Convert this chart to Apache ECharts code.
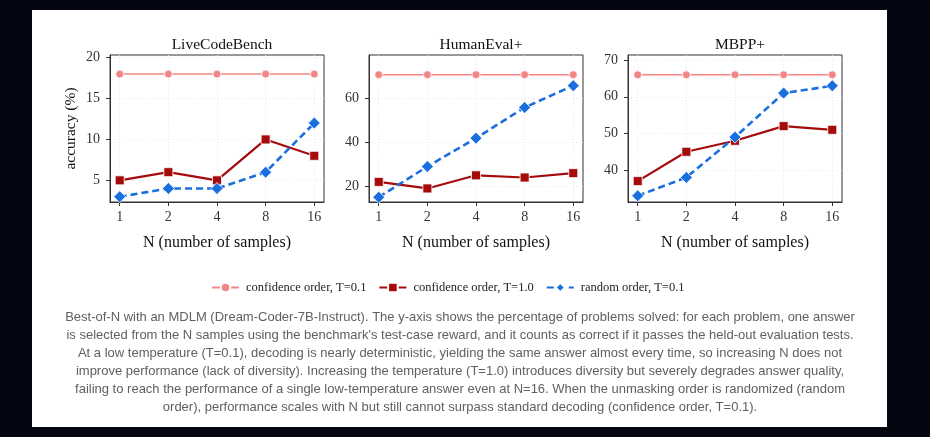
<!DOCTYPE html>
<html>
<head>
<meta charset="utf-8">
<script src="https://cdn.jsdelivr.net/npm/echarts@6/dist/echarts.min.js"></script>
<style>
  html, body { margin: 0; padding: 0; background: #040711; }
  #card { position: absolute; left: 32px; top: 10px; width: 855px; height: 417px; background: #ffffff; }
  #chart { position: absolute; left: 0; top: 0; width: 930px; height: 437px; }
</style>
</head>
<body>
<div id="card"></div>
<div id="chart"></div>
<script>
// ---- data ----
const xLabels = ['1', '2', '4', '8', '16'];
const panelTitles = ['LiveCodeBench', 'HumanEval+', 'MBPP+'];
const seriesNames = ['confidence order, T=0.1', 'confidence order, T=1.0', 'random order, T=0.1'];

const lcbConfT01 = [18, 18, 18, 18, 18];
const lcbConfT10 = [5, 6, 5, 10, 8];
const lcbRandT01 = [3, 4, 4, 6, 12];

const heConfT01 = [71, 71, 71, 71, 71];
const heConfT10 = [22, 19, 25, 24, 26];
const heRandT01 = [15, 29, 42, 56, 66];

const mbppConfT01 = [66, 66, 66, 66, 66];
const mbppConfT10 = [37, 45, 48, 52, 51];
const mbppRandT01 = [33, 38, 49, 61, 63];

const lcbYTicks = [5, 10, 15, 20];
const heYTicks = [20, 40, 60];
const mbppYTicks = [40, 50, 60, 70];

const yAxisName = 'accuracy (%)';
const xAxisName = 'N (number of samples)';

const captionLines = [
  'Best-of-N with an MDLM (Dream-Coder-7B-Instruct). The y-axis shows the percentage of problems solved: for each problem, one answer',
  "is selected from the N samples using the benchmark's test-case reward, and it counts as correct if it passes the held-out evaluation tests.",
  'At a low temperature (T=0.1), decoding is nearly deterministic, yielding the same answer almost every time, so increasing N does not',
  'improve performance (lack of diversity). Increasing the temperature (T=1.0) introduces diversity but severely degrades answer quality,',
  'failing to reach the performance of a single low-temperature answer even at N=16. When the unmasking order is randomized (random',
  'order), performance scales with N but still cannot surpass standard decoding (confidence order, T=0.1).'
];

// ---- layout / style ----
const panelData = [
  [lcbConfT01, lcbConfT10, lcbRandT01],
  [heConfT01, heConfT10, heRandT01],
  [mbppConfT01, mbppConfT10, mbppRandT01]
];
const panelYTicks = [lcbYTicks, heYTicks, mbppYTicks];
const yRanges = [[2.35, 20.33], [12.8, 80], [31.3, 71.4]];
const gridLefts = [110, 369, 628];
const gridWidth = 214;
const gridTop = 55;
const gridHeight = 147;

const SERIF = "'Liberation Serif', 'Times New Roman', serif";
const SANS = "'Liberation Sans', Arial, sans-serif";

const seriesStyles = [
  { color: '#f28686', symbol: 'circle', symbolSize: 8, lineStyle: { width: 1.6, type: 'solid' } },
  { color: '#a50b0b', symbol: 'rect', symbolSize: 9, lineStyle: { width: 2.2, type: 'solid' } },
  { color: '#1a6fe0', symbol: 'diamond', symbolSize: 12, lineStyle: { width: 2.6, type: [7, 4] } }
];

const grids = [], xAxes = [], yAxes = [], series = [], titles = [];
const xTickVals = xLabels.map((_, i) => i);
const gridLineStyle = { color: '#e4e4e4', width: 0.8, type: [1, 2] };

panelData.forEach((sets, p) => {
  grids.push({
    left: gridLefts[p], top: gridTop, width: gridWidth, height: gridHeight,
    show: true, borderColor: '#333', borderWidth: 1, backgroundColor: 'transparent'
  });
  titles.push({
    text: panelTitles[p],
    left: gridLefts[p] + gridWidth / 2, top: 32, textAlign: 'center',
    textStyle: { fontFamily: SERIF, fontSize: 15.5, fontWeight: 'normal', color: '#111' }
  });
  xAxes.push({
    type: 'value', gridIndex: p, min: -0.2, max: 4.2,
    name: xAxisName, nameLocation: 'middle', nameGap: 33,
    nameTextStyle: { fontFamily: SERIF, fontSize: 16, color: '#111' },
    axisLine: { show: true, onZero: false, lineStyle: { color: '#333', width: 1 } },
    axisTick: { show: true, length: 4, customValues: xTickVals, lineStyle: { color: '#333' } },
    axisLabel: {
      customValues: xTickVals, margin: 8,
      formatter: v => xLabels[Math.round(v)],
      fontFamily: SERIF, fontSize: 14, color: '#333'
    },
    splitLine: { show: true, lineStyle: gridLineStyle }
  });
  yAxes.push({
    type: 'value', gridIndex: p, min: yRanges[p][0], max: yRanges[p][1],
    name: p === 0 ? yAxisName : '', nameLocation: 'middle', nameGap: 31, nameRotate: 90,
    nameTextStyle: { fontFamily: SERIF, fontSize: 15.5, color: '#111' },
    axisLine: { show: true, onZero: false, lineStyle: { color: '#333', width: 1 } },
    axisTick: { show: true, length: 4, customValues: panelYTicks[p], lineStyle: { color: '#333' } },
    axisLabel: {
      customValues: panelYTicks[p], margin: 10,
      fontFamily: SERIF, fontSize: 14, color: '#333'
    },
    splitLine: { show: true, lineStyle: gridLineStyle }
  });
  sets.forEach((vals, s) => {
    const st = seriesStyles[s];
    series.push({
      name: seriesNames[s], type: 'line', xAxisIndex: p, yAxisIndex: p,
      data: vals.map((v, i) => [i, v]),
      symbol: st.symbol, symbolSize: st.symbolSize, showSymbol: true,
      itemStyle: { color: st.color, borderColor: '#ffffff', borderWidth: 0.8 },
      lineStyle: Object.assign({ color: st.color }, st.lineStyle),
      z: 2 + s, animation: false
    });
  });
});

const graphics = captionLines.map((line, i) => ({
  type: 'text', x: 460, y: 311 + i * 18,
  style: { text: line, fontFamily: SANS, fontSize: 13, fill: '#606060', textAlign: 'center' }
}));

const chart = echarts.init(document.getElementById('chart'), null, { renderer: 'canvas' });
chart.setOption({
  backgroundColor: 'transparent',
  animation: false,
  title: titles,
  grid: grids,
  xAxis: xAxes,
  yAxis: yAxes,
  series: series,
  legend: {
    data: seriesNames, top: 276, left: 206,
    itemWidth: 27, itemHeight: 12, itemGap: 12,
    textStyle: { fontFamily: SERIF, fontSize: 12.5, color: '#222', padding: [0, 0, 0, 2] }
  },
  graphic: graphics
});
</script>
</body>
</html>
